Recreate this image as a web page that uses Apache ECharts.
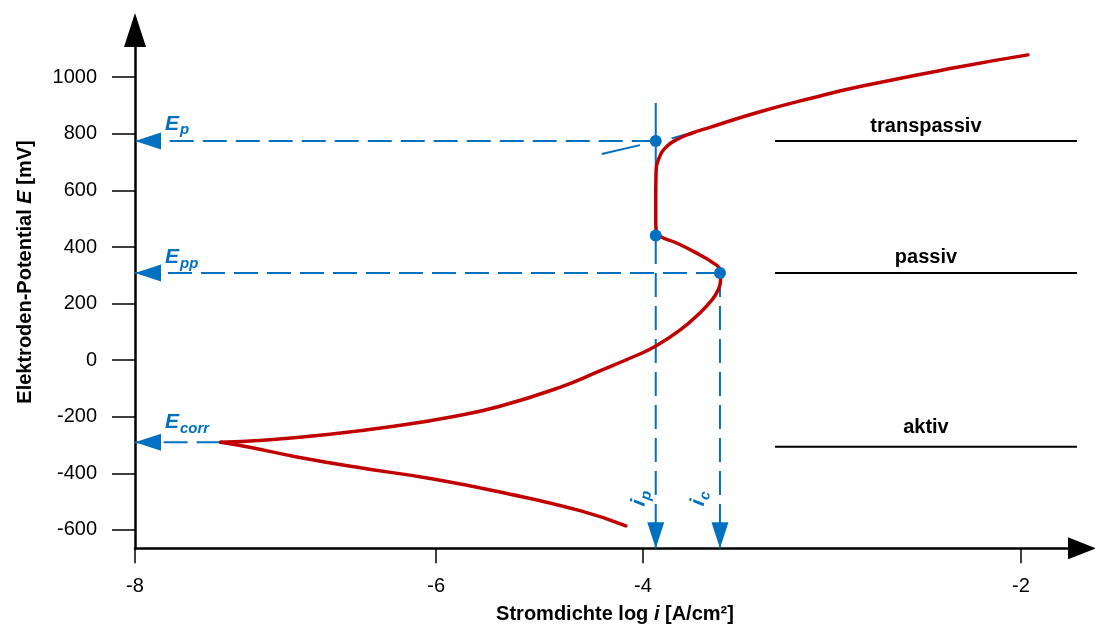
<!DOCTYPE html>
<html><head><meta charset="utf-8">
<script src="https://cdn.jsdelivr.net/npm/echarts@6/dist/echarts.min.js"></script>
<style>html,body{margin:0;padding:0;background:#fff}#c{width:1095px;height:625px}</style>
</head><body><div id="c"></div>
<script>
// ---- data (schematic current density / potential curve) ----
// x tick positions on the drawn scale and their labels (schematic scale is not evenly spaced)
const xTickPos = [-8, -5.96, -4.56, -2];
const xTickLabels = ['-8', '-6', '-4', '-2'];
const yTicks = [-600, -400, -200, 0, 200, 400, 600, 800, 1000];

const cathodicBranch = [[-7.42,-290],[-7.241,-306],[-6.903,-342],[-6.456,-382],[-6.002,-418],[-5.528,-466],[-4.986,-532],[-4.675,-586]];
const anodicBranch = [[-7.42,-290],[-7.133,-283],[-6.679,-262],[-6.226,-232],[-5.850,-200],[-5.528,-163],[-5.122,-96],[-4.851,-38],[-4.625,12],[-4.478,48],[-4.309,106],[-4.174,167],[-4.094,212],[-4.051,248],[-4.034,283],[-4.034,304],[-4.044,326],[-4.085,344],[-4.174,372],[-4.331,414],[-4.444,438],[-4.470,458],[-4.473,490],[-4.473,580],[-4.471,660],[-4.452,712],[-4.405,752],[-4.330,780],[-4.230,802],[-4.106,823],[-3.767,878],[-3.428,925],[-3.090,967],[-2.412,1037],[-1.952,1079]];

const tangentLeft = [[-4.839,729],[-4.580,760]];
const tangentRight = [[-4.366,784],[-4.228,804]];

const keyPoints = [[-4.473,775],[-4.473,441],[-4.038,308]];

const guideEp = [[-4.473,775],[-8,775]];
const guideEpp = [[-4.038,308],[-8,308]];
const guideEcorr = [[-7.42,-290],[-8,-290]];
const guideIpTop = [[-4.473,909],[-4.473,775]];
const guideIp = [[-4.473,775],[-4.473,-665]];
const guideIc = [[-4.038,308],[-4.038,-665]];
const arrowHeads = [[-8,775,'left'],[-8,308,'left'],[-8,-290,'left'],[-4.473,-665,'down'],[-4.038,-665,'down']];

const potentialLabels = ['p','pp','corr'];
const potentialLabelPos = [[-7.797,835],[-7.797,363],[-7.797,-220]];
const currentLabels = ['p','c'];
const currentLabelPos = [[-4.58,-487],[-4.18,-487]];

const regionNames = ['transpassiv','passiv','aktiv'];
const regionLevels = [775, 308, -306];
const regionLabelLevels = [826, 363, -238];
const regionSpan = [-3.665, -1.620];
const regionLabelX = -2.643;

// ---- chart ----
const BLUE = '#0070C0', RED = '#C00000';
const FONT = 'Liberation Sans, Arial, sans-serif';
const chart = echarts.init(document.getElementById('c'));

const dashed = (data) => ({type:'line', data, symbol:'none', silent:true, z:3,
  lineStyle:{color:BLUE, width:2, type:[24,9]}});
const series = [];
series.push(dashed(guideEp), dashed(guideEpp), dashed(guideEcorr), dashed(guideIp), dashed(guideIc));
series.push({type:'line', data:guideIpTop, symbol:'none', z:3, lineStyle:{color:BLUE, width:2}});
series.push({type:'line', data:tangentLeft, symbol:'none', z:3, lineStyle:{color:BLUE, width:2}});
series.push({type:'line', data:tangentRight, symbol:'none', z:3, lineStyle:{color:BLUE, width:2}});
regionLevels.forEach(v => series.push({type:'line', symbol:'none', z:2,
  data:[[regionSpan[0], v],[regionSpan[1], v]], lineStyle:{color:'#000', width:2}}));
series.push({type:'line', data:cathodicBranch, symbol:'none', smooth:0.5, z:6,
  lineStyle:{color:RED, width:3.5, cap:'round'}});
series.push({type:'line', data:anodicBranch, symbol:'none', smooth:0.5, z:6,
  lineStyle:{color:RED, width:3.5, cap:'round', join:'round'}});
series.push({type:'scatter', data:keyPoints, symbolSize:12, z:8, itemStyle:{color:BLUE, opacity:1}});
series.push({type:'custom', z:7, clip:false,
  data: arrowHeads.map(a => [a[0], a[1], a[2] === 'left' ? 0 : 1]),
  encode:{x:0, y:1},
  renderItem(params, api){
    const p = api.coord([api.value(0), api.value(1)]);
    const L = 26, H = 8.5;
    const pts = api.value(2) === 0
      ? [[p[0], p[1]], [p[0]+L, p[1]-H], [p[0]+L, p[1]+H]]
      : [[p[0], p[1]], [p[0]-H, p[1]-L], [p[0]+H, p[1]-L]];
    return {type:'polygon', shape:{points:pts}, style:{fill:BLUE}};
  }});
const subRich = {
  e:{fontSize:21, fontWeight:'bold', fontStyle:'italic', color:BLUE, fontFamily:FONT, verticalAlign:'top', lineHeight:21},
  s:{fontSize:15, fontWeight:'bold', fontStyle:'italic', color:BLUE, fontFamily:FONT, verticalAlign:'top', lineHeight:15, padding:[9,0,0,1]}
};
const labelSeries = (data, label) => ({type:'scatter', symbolSize:0, z:9, silent:true, data,
  itemStyle:{opacity:1}, label:Object.assign({show:true, position:[0,0], opacity:1}, label)});
series.push(labelSeries(potentialLabelPos.map((p, i) => ({value:p, name:potentialLabels[i]})),
  {align:'left', verticalAlign:'middle', formatter: p => '{e|E}{s|' + p.name + '}', rich:subRich}));
series.push(labelSeries(currentLabelPos.map((p, i) => ({value:p, name:currentLabels[i]})),
  {align:'center', verticalAlign:'middle', rotate:80, formatter: p => '{e|i}{s|' + p.name + '}', rich:subRich}));
series.push(labelSeries(regionNames.map((n, i) => ({value:[regionLabelX, regionLabelLevels[i]], name:n})),
  {align:'center', verticalAlign:'middle', formatter: p => p.name, fontSize:20, fontWeight:'bold', color:'#000', fontFamily:FONT}));

chart.setOption({
  animation:false,
  backgroundColor:'#fff',
  grid:{left:135, right:13, top:30, bottom:76.7, containLabel:false},
  xAxis:{type:'value', min:-8, max:-1.586,
    axisLine:{onZero:false, symbol:['none','triangle'], symbolSize:[22,28], lineStyle:{color:'#000', width:2.5}},
    axisTick:{show:true, customValues:xTickPos, length:15, lineStyle:{color:'#000', width:1.5}},
    axisLabel:{customValues:xTickPos, margin:28, fontSize:20, color:'#000', fontFamily:FONT,
      formatter: v => { const i = xTickPos.findIndex(t => Math.abs(t - v) < 1e-6); return i >= 0 ? xTickLabels[i] : ''; }},
    splitLine:{show:false}},
  yAxis:{type:'value', min:-665, max:1167,
    axisLine:{onZero:false, symbol:['none','triangle'], symbolSize:[22,34], lineStyle:{color:'#000', width:2.5}},
    axisTick:{show:true, customValues:yTicks, length:23, lineStyle:{color:'#000', width:1.5}},
    axisLabel:{customValues:yTicks, margin:38, fontSize:20, color:'#000', fontFamily:FONT, formatter: v => String(v)},
    splitLine:{show:false}},
  graphic:[
    {type:'text', x:615, y:614, style:{text:'{a|Stromdichte log }{b|i}{a| [A/cm²]}', align:'center', verticalAlign:'middle',
      rich:{a:{fontSize:20, fontWeight:'bold', fontFamily:FONT, fill:'#000'}, b:{fontSize:20, fontWeight:'bold', fontStyle:'italic', fontFamily:FONT, fill:'#000'}}}},
    {type:'text', x:25, y:272, rotation:Math.PI/2, style:{text:'{a|Elektroden-Potential }{b|E}{a| [mV]}', align:'center', verticalAlign:'middle',
      rich:{a:{fontSize:20, fontWeight:'bold', fontFamily:FONT, fill:'#000'}, b:{fontSize:20, fontWeight:'bold', fontStyle:'italic', fontFamily:FONT, fill:'#000'}}}}
  ],
  series
});
</script></body></html>
